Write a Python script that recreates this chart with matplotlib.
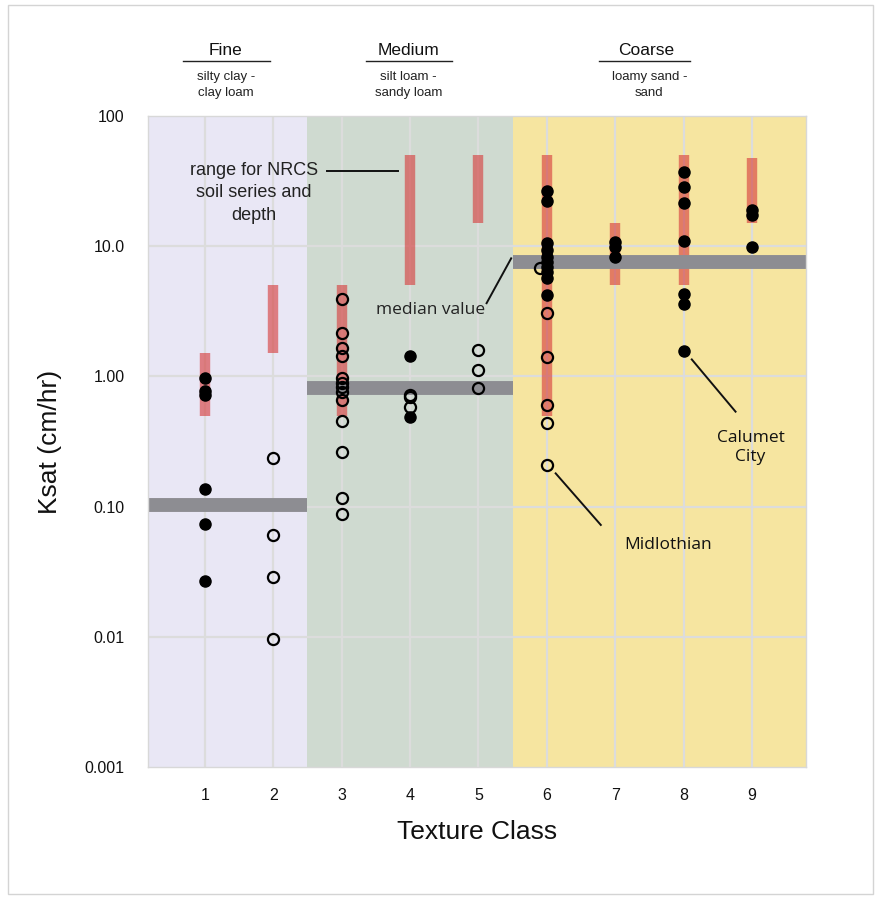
import matplotlib
matplotlib.use("Agg")
import matplotlib.pyplot as plt
import matplotlib.transforms as mtransforms
from matplotlib.patches import Rectangle

plt.rcParams['font.family'] = ['Liberation Sans', 'DejaVu Sans']

# ---------------- data ----------------
texture_class = [1, 2, 3, 4, 5, 6, 7, 8, 9]
y_ticks = [0.001, 0.01, 0.1, 1, 10, 100]
y_tick_labels = ["0.001", "0.01", "0.10", "1.00", "10.0", "100"]

groups = ["Fine", "Medium", "Coarse"]
group_sub = ["silty clay -\nclay loam", "silt loam -\nsandy loam", "loamy sand -\nsand"]
group_lo = [0.17, 2.5, 5.5]
group_hi = [2.5, 5.5, 9.79]
group_median = [0.102, 0.82, 7.5]
group_colors = ["#E9E7F5", "#CFDAD0", "#F6E5A0"]

nrcs_low = [0.5, 1.5, 0.5, 5, 15, 0.5, 5, 5, 15]
nrcs_high = [1.5, 5, 5, 50, 50, 50, 15, 50, 48]

filled_x = [1, 1, 1, 1, 1, 1,
            4, 4,
            6, 6, 6, 6, 6, 6, 6, 6, 6, 6,
            7, 7, 7,
            8, 8, 8, 8, 8, 8, 8,
            9, 9, 9]
filled_y = [0.98, 0.77, 0.72, 0.137, 0.073, 0.027,
            1.43, 0.49,
            26.5, 22.2, 10.5, 9.35, 8.3, 7.6, 6.96, 6.37, 5.66, 4.22,
            10.8, 9.8, 8.3,
            37, 28.3, 21.6, 11, 4.3, 3.58, 1.58,
            19, 17.4, 9.9]

open_x = [2, 2, 2, 2,
          3, 3, 3, 3, 3, 3, 3, 3, 3, 3, 3, 3, 3,
          4, 4, 4,
          5, 5, 5,
          5.9, 6, 6, 6, 6, 6]
open_y = [0.238, 0.060, 0.029, 0.0096,
          3.91, 2.17, 1.66, 1.44, 0.97, 0.885, 0.824, 0.76, 0.66, 0.457, 0.264, 0.116, 0.088,
          0.72, 0.69, 0.58,
          1.6, 1.11, 0.81,
          6.76, 3.05, 1.42, 0.60, 0.44, 0.209]

# ---------------- figure ----------------
fig = plt.figure(figsize=(8.75, 8.97), dpi=100)
fig.patches.append(Rectangle((8 / 875, 0.003), 1 - 8 / 875 - 0.002, 1 - 5 / 897 - 0.003,
                             transform=fig.transFigure, fill=False,
                             edgecolor="#d4d4d4", linewidth=1.0))
ax = fig.add_axes([148 / 875, 1 - 767 / 897, (806 - 148) / 875, (767 - 116) / 897])

ax.set_yscale("log")
ax.set_ylim(0.001, 100)
ax.set_xlim(group_lo[0], group_hi[-1])

for lo, hi, c in zip(group_lo, group_hi, group_colors):
    ax.axvspan(lo, hi, color=c, zorder=0, linewidth=0)

# grid
for yv in y_ticks[1:-1]:
    ax.axhline(yv, color="#dcdcdc", linewidth=1.6, zorder=0.5)
for xv in texture_class:
    ax.axvline(xv, color="#dcdcdc", linewidth=1.6, zorder=0.5)

# NRCS ranges
ax.vlines(texture_class, nrcs_low, nrcs_high, colors="#d63c3c", alpha=0.62,
          linewidth=7.5, zorder=1)

# group medians
for lo, hi, m in zip(group_lo, group_hi, group_median):
    ax.plot([lo, hi], [m, m], color="#8d8d92", linewidth=10, solid_capstyle="butt", zorder=2)

# points
ax.plot(filled_x, filled_y, "o", color="black", markersize=8, zorder=4)
ax.plot(open_x, open_y, "o", markerfacecolor="none", markeredgecolor="black",
        markersize=8, markeredgewidth=1.6, zorder=4)

# axes styling
for s in ax.spines.values():
    s.set_color("#d8d8d8")
    s.set_linewidth(1.0)
ax.set_yticks(y_ticks)
ax.set_yticklabels(y_tick_labels)
ax.minorticks_off()
ax.set_xticks(texture_class)
ax.set_xticklabels([str(c) for c in texture_class])
ax.tick_params(axis="both", length=0, labelsize=11.5, colors="#111111")
ax.tick_params(axis="y", pad=17)
ax.tick_params(axis="x", pad=15)
ax.set_ylabel("Ksat (cm/hr)", fontsize=19, labelpad=16, color="#111111")
ax.set_xlabel("Texture Class", fontsize=19, labelpad=12, color="#111111")

# group headers
trans = mtransforms.blended_transform_factory(ax.transData, ax.transAxes)
header_x = [1.31, 3.98, 7.45]
sub_x = [1.31, 3.98, 7.5]
underline_lo = [0.68, 3.35, 6.77]
underline_hi = [1.95, 4.61, 8.09]
for g, s, hx, sx, ul, uh in zip(groups, group_sub, header_x, sub_x, underline_lo, underline_hi):
    ax.text(hx, 1.101, g, transform=trans, ha="center", va="center", fontsize=12.5,
            color="#111111")
    ax.plot([ul, uh], [1.0845, 1.0845], transform=trans, color="#222222",
            linewidth=1.0, clip_on=False)
    ax.text(sx, 1.047, s, transform=trans, ha="center", va="center", fontsize=9.5,
            linespacing=1.45, color="#222222")

# annotations
ax.text(1.72, 25.8, "range for NRCS\nsoil series and\ndepth", ha="center", va="center",
        fontsize=13, linespacing=1.42, color="#222222", zorder=5)
ax.plot([2.79, 3.82], [38, 38], color="#111111", linewidth=1.4, zorder=5)

ax.text(4.30, 3.24, "median value", ha="center", va="center", fontsize=12.5,
        family=["Open Sans", "DejaVu Sans"], color="#222222", zorder=5)
ax.plot([5.12, 5.48], [3.65, 8.07], color="#111111", linewidth=1.4, zorder=5)

ax.text(8.98, 0.284, "Calumet\nCity", ha="center", va="center", fontsize=12.5,
        linespacing=1.3, family=["Open Sans", "DejaVu Sans"], color="#111111", zorder=5)
ax.plot([8.12, 8.76], [1.35, 0.536], color="#111111", linewidth=1.4, zorder=5)

ax.text(7.78, 0.0507, "Midlothian", ha="center", va="center", fontsize=12.5,
        family=["Open Sans", "DejaVu Sans"], color="#111111", zorder=5)
ax.plot([6.13, 6.79], [0.180, 0.0723], color="#111111", linewidth=1.4, zorder=5)

fig.savefig("out.png", dpi=100)
